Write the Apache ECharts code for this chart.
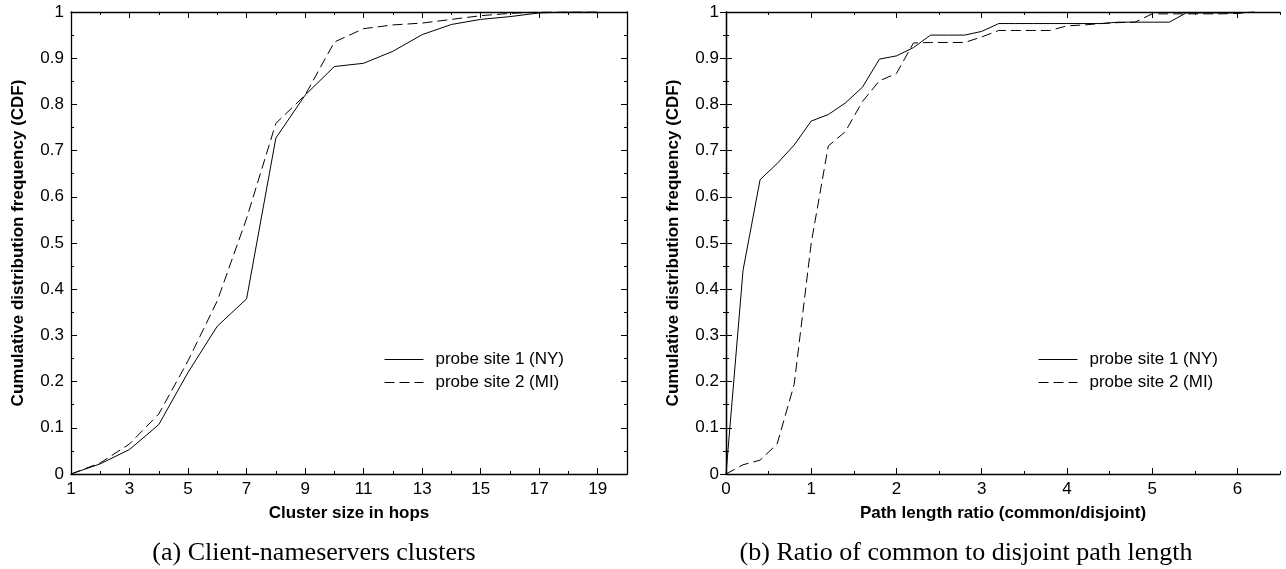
<!DOCTYPE html>
<html>
<head>
<meta charset="utf-8">
<script src="https://cdn.jsdelivr.net/npm/echarts@6/dist/echarts.min.js"></script>
<style>html,body{margin:0;padding:0;background:#fff}#c{width:1286px;height:569px}</style>
</head>
<body>
<div id="c"></div>
<script>
// ---- Data ----
const seriesNames = ['probe site 1 (NY)', 'probe site 2 (MI)'];
// (a) Cluster size in hops
const hopsNY = [[1,0],[2,0.022],[3,0.053],[4,0.107],[5,0.22],[6,0.32],[7,0.379],[8,0.727],[9,0.82],[10,0.882],[11,0.889],[12,0.915],[13,0.951],[14,0.973],[15,0.984],[16,0.99],[17,0.998],[18,1],[19,1]];
const hopsMI = [[1,0],[2,0.024],[3,0.065],[4,0.13],[5,0.245],[6,0.375],[7,0.553],[8,0.759],[9,0.82],[10,0.935],[11,0.964],[12,0.972],[13,0.976],[14,0.984],[15,0.992],[16,0.997],[17,1],[18,1],[19,1]];
// (b) Path length ratio
const ratioNY = [[0,0],[0.2,0.441],[0.4,0.637],[0.6,0.672],[0.8,0.712],[1.0,0.764],[1.2,0.778],[1.4,0.803],[1.6,0.837],[1.8,0.898],[2.0,0.905],[2.2,0.923],[2.4,0.95],[2.6,0.95],[2.8,0.95],[3.0,0.958],[3.2,0.975],[3.4,0.975],[3.6,0.975],[3.8,0.975],[4.0,0.975],[4.2,0.975],[4.4,0.975],[4.6,0.978],[4.8,0.978],[5.0,0.978],[5.2,0.978],[5.4,0.998],[5.6,0.998],[5.8,0.998],[6.0,0.998],[6.2,1]];
const ratioMI = [[0,0],[0.2,0.02],[0.4,0.03],[0.6,0.065],[0.8,0.194],[1.0,0.5],[1.2,0.71],[1.4,0.741],[1.6,0.806],[1.8,0.851],[2.0,0.867],[2.2,0.933],[2.4,0.934],[2.6,0.934],[2.8,0.934],[3.0,0.946],[3.2,0.96],[3.4,0.96],[3.6,0.96],[3.8,0.96],[4.0,0.97],[4.2,0.972],[4.4,0.975],[4.6,0.977],[4.8,0.978],[5.0,0.996],[5.2,0.996],[5.4,0.996],[5.6,0.996],[5.8,0.996],[6.0,0.997],[6.2,1]];
// ticks
const hopsMajor = [1,3,5,7,9,11,13,15,17,19];
const hopsMinor = [2,4,6,8,10,12,14,16,18,20];
const ratioMajor = [0,1,2,3,4,5,6];
const ratioMinor = [0.5,1.5,2.5,3.5,4.5,5.5,6.5];
const xTitles = ['Cluster size in hops', 'Path length ratio (common/disjoint)'];
const yTitle = 'Cumulative distribution frequency (CDF)';
const captions = ['(a) Client-nameservers clusters', '(b) Ratio of common to disjoint path length'];

const SANS = 'Liberation Sans, Arial, sans-serif';
const SERIF = 'Liberation Serif, Times New Roman, serif';
const lineCol = '#000';

function xAxes(grid, min, max, major, minor, title) {
  const base = {type:'value', gridIndex:grid, min:min, max:max, splitLine:{show:false}};
  return [
    Object.assign({}, base, {position:'bottom', name:title, nameLocation:'middle', nameGap:31,
      nameTextStyle:{fontFamily:SANS, fontWeight:'bold', fontSize:17, color:'#000'},
      axisLine:{show:true, lineStyle:{color:lineCol, width:1.3}},
      axisTick:{show:true, inside:true, length:6, customValues:major, lineStyle:{color:lineCol}},
      axisLabel:{show:true, customValues:major, margin:7, fontFamily:SANS, fontSize:17, color:'#000'}}),
    Object.assign({}, base, {position:'bottom', axisLine:{show:false},
      axisTick:{show:true, inside:true, length:3, customValues:minor, lineStyle:{color:lineCol}},
      axisLabel:{show:false}}),
    Object.assign({}, base, {position:'top', axisLine:{show:true, lineStyle:{color:lineCol, width:1.3}},
      axisTick:{show:true, inside:true, length:6, customValues:major, lineStyle:{color:lineCol}},
      axisLabel:{show:false}}),
    Object.assign({}, base, {position:'top', axisLine:{show:false},
      axisTick:{show:true, inside:true, length:3, customValues:minor, lineStyle:{color:lineCol}},
      axisLabel:{show:false}})
  ];
}
function yAxes(grid) {
  const base = {type:'value', gridIndex:grid, min:0, max:1, interval:0.1, splitLine:{show:false},
    axisLine:{show:true, lineStyle:{color:lineCol, width:1.3}},
    axisTick:{show:true, inside:true, length:6, lineStyle:{color:lineCol}},
    minorTick:{show:true, splitNumber:2, length:3, lineStyle:{color:lineCol}}};
  return [
    Object.assign({}, base, {position:'left', name:yTitle, nameLocation:'middle', nameGap:44,
      nameTextStyle:{fontFamily:SANS, fontWeight:'bold', fontSize:17, color:'#000'},
      axisLabel:{show:true, margin:7, fontFamily:SANS, fontSize:17, color:'#000'}}),
    Object.assign({}, base, {position:'right', axisLabel:{show:false}})
  ];
}

const xAxis = [].concat(xAxes(0, 1, 20, hopsMajor, hopsMinor, xTitles[0]), xAxes(1, 0, 6.5, ratioMajor, ratioMinor, xTitles[1]));
const yAxis = [].concat(yAxes(0), yAxes(1));

function ser(name, data, xi, yi, dashed) {
  return {type:'line', name:name, data:data, xAxisIndex:xi, yAxisIndex:yi, symbol:'none', showSymbol:false,
    animation:false, lineStyle:{color:'#000', width:1, type: dashed ? [10,5] : 'solid'},
    itemStyle:{color:'rgba(0,0,0,0)', borderWidth:0}};
}

const legendBase = {orient:'vertical', padding:0, itemWidth:39, itemHeight:14, itemGap:6,
  itemStyle:{opacity:0, color:'rgba(0,0,0,0)', borderWidth:0},
  lineStyle:{color:'#000', width:1},
  textStyle:{fontFamily:SANS, fontSize:17, color:'#000', padding:[0,0,0,7]}, data:seriesNames};

const option = {
  backgroundColor:'#fff',
  animation:false,
  grid:[{left:71, right:659, top:12, bottom:95}, {left:726, right:6, top:12, bottom:95}],
  xAxis:xAxis,
  yAxis:yAxis,
  legend:[Object.assign({}, legendBase, {left:384, top:351}), Object.assign({}, legendBase, {left:1038, top:351})],
  series:[
    ser(seriesNames[0], hopsNY, 0, 0, false),
    ser(seriesNames[1], hopsMI, 0, 0, true),
    ser(seriesNames[0], ratioNY, 4, 2, false),
    ser(seriesNames[1], ratioMI, 4, 2, true)
  ],
  graphic:[
    {type:'text', x:314, y:553, style:{text:captions[0], fontFamily:SERIF, fontSize:26, fill:'#000', textAlign:'center', textVerticalAlign:'middle'}},
    {type:'text', x:966, y:553, style:{text:captions[1], fontFamily:SERIF, fontSize:26, fill:'#000', textAlign:'center', textVerticalAlign:'middle'}}
  ]
};
const chart = echarts.init(document.getElementById('c'), null, {renderer:'canvas'});
chart.setOption(option);
</script>
</body>
</html>
